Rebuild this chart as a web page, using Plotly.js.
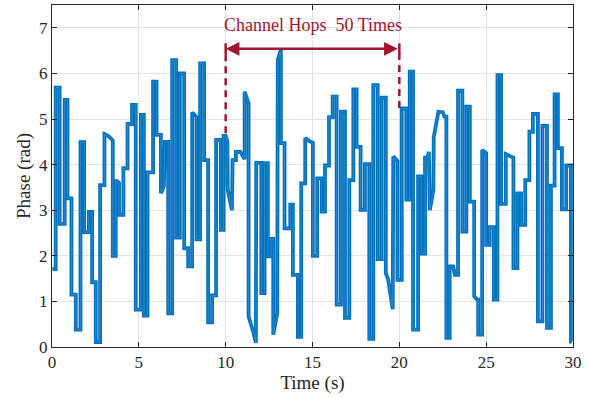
<!DOCTYPE html>
<html>
<head>
<meta charset="utf-8">
<script src="https://cdn.plot.ly/plotly-3.0.1.min.js"></script>
<style>
html,body{margin:0;padding:0;background:#fff;}
#chart{width:598px;height:399px;}
</style>
</head>
<body>
<div id="chart"></div>
<script>
// Vertices of the measured phase trace (time in s, phase in rad)
var timeS = [
0.03,0.21,0.21,0.44,0.44,0.73,0.73,0.89,0.89,1.12,1.12,1.37,1.37,1.64,1.64,1.85,1.85,2.12,2.12,2.31,
2.31,2.52,2.52,2.77,2.77,3.02,3.02,3.27,3.50,3.50,3.67,3.67,3.86,3.86,4.11,4.11,4.35,4.35,4.61,4.61,
4.82,4.82,5.12,5.12,5.29,5.29,5.50,5.50,5.82,5.82,6.02,6.02,6.27,6.27,6.44,6.50,6.69,6.69,6.92,6.92,
7.15,7.15,7.36,7.36,7.61,7.61,7.84,7.84,8.07,8.07,8.32,8.32,8.53,8.53,8.76,8.76,8.99,8.99,9.22,9.22,
9.45,9.45,9.72,9.72,9.88,9.88,10.00,10.10,10.12,10.36,10.40,10.59,10.59,10.84,11.09,11.09,11.32,11.32,11.61,11.74,
11.76,12.05,12.05,12.24,12.24,12.43,12.43,12.62,12.62,12.74,12.74,12.97,13.00,13.14,13.18,13.18,13.39,13.39,13.72,13.72,
13.87,13.87,14.16,14.16,14.35,14.35,14.58,14.58,14.80,15.02,15.02,15.27,15.27,15.53,15.53,15.72,15.72,15.95,15.95,16.16,
16.16,16.39,16.39,16.64,16.64,16.87,16.87,17.12,17.12,17.35,17.35,17.54,17.54,17.77,17.77,18.02,18.02,18.27,18.27,18.50,
18.50,18.75,18.75,18.98,18.98,19.22,19.22,19.35,19.62,19.65,19.89,19.89,20.14,20.14,20.40,20.40,20.60,20.60,20.79,20.79,
21.08,21.08,21.27,21.27,21.48,21.48,21.62,21.70,21.75,21.85,21.96,21.98,22.10,22.25,22.50,22.60,22.71,22.71,22.90,22.90,
23.10,23.20,23.38,23.38,23.63,23.63,23.86,23.86,24.06,24.06,24.31,24.31,24.48,24.54,24.54,24.77,24.77,25.00,25.00,25.20,
25.20,25.44,25.44,25.65,25.65,25.86,25.86,26.13,26.13,26.40,26.57,26.57,26.80,26.80,27.01,27.01,27.25,27.25,27.49,27.49,
27.69,27.69,27.98,27.98,28.24,28.24,28.50,28.50,28.73,28.73,28.94,28.94,29.13,29.13,29.36,29.36,29.61,29.61,29.88,29.88,
29.93
];
var phaseRad = [
1.71,1.71,5.69,5.69,2.70,2.70,5.42,5.42,3.26,3.26,1.15,1.15,0.38,0.38,4.49,4.49,2.52,2.52,2.96,2.96,
1.42,1.42,0.11,0.11,3.55,3.55,4.67,4.62,4.53,2.00,2.00,3.66,3.60,2.90,2.90,3.92,3.92,4.89,4.89,5.31,
5.31,0.82,0.82,5.09,5.09,0.69,0.69,3.83,3.83,5.82,5.82,4.65,4.65,3.37,3.52,4.50,4.50,0.74,0.74,6.29,
6.29,2.40,2.40,6.00,6.00,2.17,2.17,1.77,1.77,5.14,5.05,2.36,2.36,6.22,6.22,4.10,4.10,0.54,0.54,1.13,
1.13,4.54,4.54,2.57,2.57,4.63,4.63,4.50,3.45,3.00,4.10,4.10,4.28,4.28,4.12,5.60,5.34,0.67,0.30,0.09,
4.04,4.04,1.18,1.18,4.03,4.03,1.99,1.99,2.37,2.37,0.27,0.74,6.30,6.47,6.47,4.47,4.47,2.60,2.60,3.12,
3.12,1.58,1.58,0.22,0.22,3.59,3.59,4.58,4.52,4.48,2.00,2.00,3.70,3.70,2.97,2.97,3.98,3.98,5.04,5.04,
5.49,5.49,0.93,0.93,5.16,5.16,0.64,0.64,3.66,3.66,5.65,5.65,4.39,4.39,3.01,3.01,4.01,4.01,0.18,0.18,
5.74,5.74,1.93,1.93,5.47,5.47,1.62,1.49,0.83,4.18,4.08,1.47,1.47,5.23,5.23,3.23,3.23,6.04,6.04,0.38,
0.38,3.74,3.74,2.05,2.05,4.15,4.15,4.28,3.00,3.20,3.45,4.60,4.85,5.16,5.15,5.05,5.05,0.20,0.20,1.77,
1.77,1.58,1.58,5.62,5.62,2.53,2.53,5.27,5.27,3.19,3.19,1.11,1.04,1.04,0.27,0.27,4.32,4.25,2.24,2.24,
2.63,2.63,1.04,1.04,5.96,5.96,3.14,3.14,4.23,4.18,4.15,1.73,1.73,3.37,3.37,2.68,2.68,3.66,3.66,4.72,
4.72,5.11,5.11,0.56,0.56,4.85,4.85,0.42,0.42,3.54,3.54,5.54,5.54,4.36,4.36,3.02,3.02,3.98,3.98,0.12,
0.12
];
var xTicks = [0,5,10,15,20,25,30];
var yTicks = [0,1,2,3,4,5,6,7];
var hopWindow = [10,20];      // s
var hopLabel = 'Channel Hops\u00a0 50 Times';

var blue = '#0072BD';
var red = '#A2142F';
var serif = 'Liberation Serif, Times New Roman, serif';

var traces = [
  {x: timeS, y: phaseRad, type: 'scatter', mode: 'lines',
   line: {color: blue, width: 3.8, simplify: false}, hoverinfo: 'skip', showlegend: false},
  {x: timeS, y: phaseRad, type: 'scatter', mode: 'lines',
   line: {color: '#2a87cf', width: 1.0, simplify: false}, hoverinfo: 'skip', showlegend: false}
];

var axisCommon = {
  showline: true, linecolor: '#262626', linewidth: 1, mirror: 'ticks',
  ticks: 'inside', ticklen: 5, tickwidth: 1, tickcolor: '#262626',
  showgrid: true, gridcolor: '#e3e3e3', gridwidth: 1, zeroline: false,
  tickfont: {family: serif, size: 17, color: '#262626'}
};

var layout = {
  width: 598, height: 399,
  margin: {l: 52, r: 25, t: 5, b: 52},
  paper_bgcolor: '#fff', plot_bgcolor: '#fff',
  xaxis: Object.assign({}, axisCommon, {
    range: [0, 30], tickvals: xTicks, ticktext: xTicks.map(String),
    title: {text: 'Time (s)', font: {family: serif, size: 19, color: '#262626'}, standoff: 0}
  }),
  yaxis: Object.assign({}, axisCommon, {
    range: [0, 7.5], tickvals: yTicks, ticktext: yTicks.map(String),
    title: {text: 'Phase (rad)', font: {family: serif, size: 19, color: '#262626'}, standoff: 3}
  }),
  shapes: [
    {type: 'line', xref: 'x', yref: 'y', x0: hopWindow[0], x1: hopWindow[0], y0: 4.69, y1: 6.5,
     line: {color: red, width: 2.5, dash: '7px,5px'}},
    {type: 'line', xref: 'x', yref: 'y', x0: hopWindow[1], x1: hopWindow[1], y0: 5.24, y1: 6.5,
     line: {color: red, width: 2.5, dash: '7px,5px'}},
    {type: 'line', xref: 'x', yref: 'y', x0: hopWindow[0], x1: hopWindow[0], y0: 6.42, y1: 6.66,
     line: {color: red, width: 2.5}},
    {type: 'line', xref: 'x', yref: 'y', x0: hopWindow[1], x1: hopWindow[1], y0: 6.42, y1: 6.66,
     line: {color: red, width: 2.5}}
  ],
  annotations: [
    {x: hopWindow[0], y: 6.54, xref: 'x', yref: 'y', ax: hopWindow[1], ay: 6.54, axref: 'x', ayref: 'y',
     showarrow: true, arrowhead: 2, startarrowhead: 2, arrowside: 'end+start', arrowsize: 1.1,
     startarrowsize: 1.1, arrowwidth: 2.5, arrowcolor: red, text: ''},
    {x: (hopWindow[0] + hopWindow[1]) / 2, y: 7.06, xref: 'x', yref: 'y', showarrow: false,
     text: hopLabel, font: {family: serif, size: 18, color: red}}
  ]
};

Plotly.newPlot('chart', traces, layout, {staticPlot: true, displayModeBar: false});
</script>
</body>
</html>
